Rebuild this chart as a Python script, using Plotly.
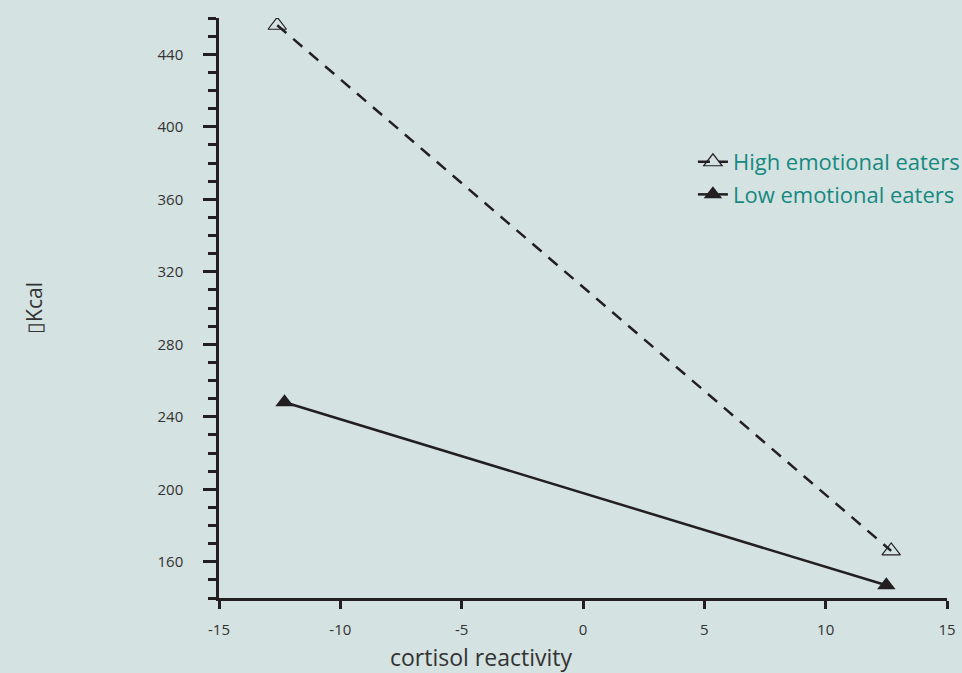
import plotly.graph_objects as go

# Data
high_x = [-12.6, 12.7]
high_y = [456, 166]
low_x = [-12.3, 12.5]
low_y = [248, 147]
series_names = ["High emotional eaters", "Low emotional eaters"]
x_title = "cortisol reactivity"
y_title = "\u25afKcal"

x_tickvals = [-15, -10, -5, 0, 5, 10, 15]
y_tickvals = [160, 200, 240, 280, 320, 360, 400, 440]

bg = "#d4e2e1"
ink = "#231f20"
teal = "#15897f"
font_family = "Open Sans, Lato, sans-serif"

fig = go.Figure()
fig.add_trace(go.Scatter(
    x=high_x, y=high_y, mode="lines+markers", name=series_names[0], legendgroup="a",
    line=dict(color=ink, width=2.5, dash="12px,9px"),
    marker=dict(symbol="triangle-up-open", size=16, color=ink, line=dict(width=1.2, color=ink)),
))
fig.add_trace(go.Scatter(
    x=low_x, y=low_y, mode="lines+markers", name=series_names[1], legendgroup="b",
    line=dict(color=ink, width=2.5),
    marker=dict(symbol="triangle-up", size=16, color=ink),
))

fig.update_layout(
    width=962, height=673,
    paper_bgcolor=bg, plot_bgcolor=bg,
    margin=dict(l=219, r=15, t=18, b=75, autoexpand=False),
    font=dict(family=font_family, color="#333333"),
    legend=dict(
        x=0.651, y=0.788, xanchor="left", yanchor="top",
        bgcolor="rgba(0,0,0,0)",
        font=dict(size=22, color=teal, family=font_family),
        tracegroupgap=1,
    ),
    xaxis=dict(
        range=[-15, 15], tickvals=x_tickvals, ticktext=[str(v) for v in x_tickvals],
        showgrid=False, zeroline=False, showline=True, linecolor=ink, linewidth=2.5,
        ticks="outside", ticklen=8, tickwidth=2.5, tickcolor=ink,
        tickfont=dict(size=15, color="#333333"),
        ticklabelstandoff=8, automargin=False,
    ),
    yaxis=dict(
        range=[140, 460], tickvals=y_tickvals, ticktext=[str(v) for v in y_tickvals],
        showgrid=False, zeroline=False, showline=True, linecolor=ink, linewidth=2.5,
        ticks="outside", ticklen=13, tickwidth=2.5, tickcolor=ink,
        tickfont=dict(size=15, color="#333333"),
        ticklabelstandoff=17, automargin=False,
        minor=dict(dtick=10, tick0=0, ticks="outside", ticklen=8, tickwidth=2.5, tickcolor=ink, showgrid=False),
        title=dict(text=y_title, font=dict(size=21, color="#333333"), standoff=110),
    ),
    annotations=[dict(
        text=x_title, xref="paper", yref="paper", x=0.36, y=0.0, yshift=-59,
        xanchor="center", yanchor="middle", showarrow=False,
        font=dict(size=23, color="#333333", family=font_family),
    )],
)

fig.write_html(
    "out.html",
    config={"displayModeBar": False},
    post_script="document.body.style.margin='0';document.body.style.overflow='hidden';",
)
